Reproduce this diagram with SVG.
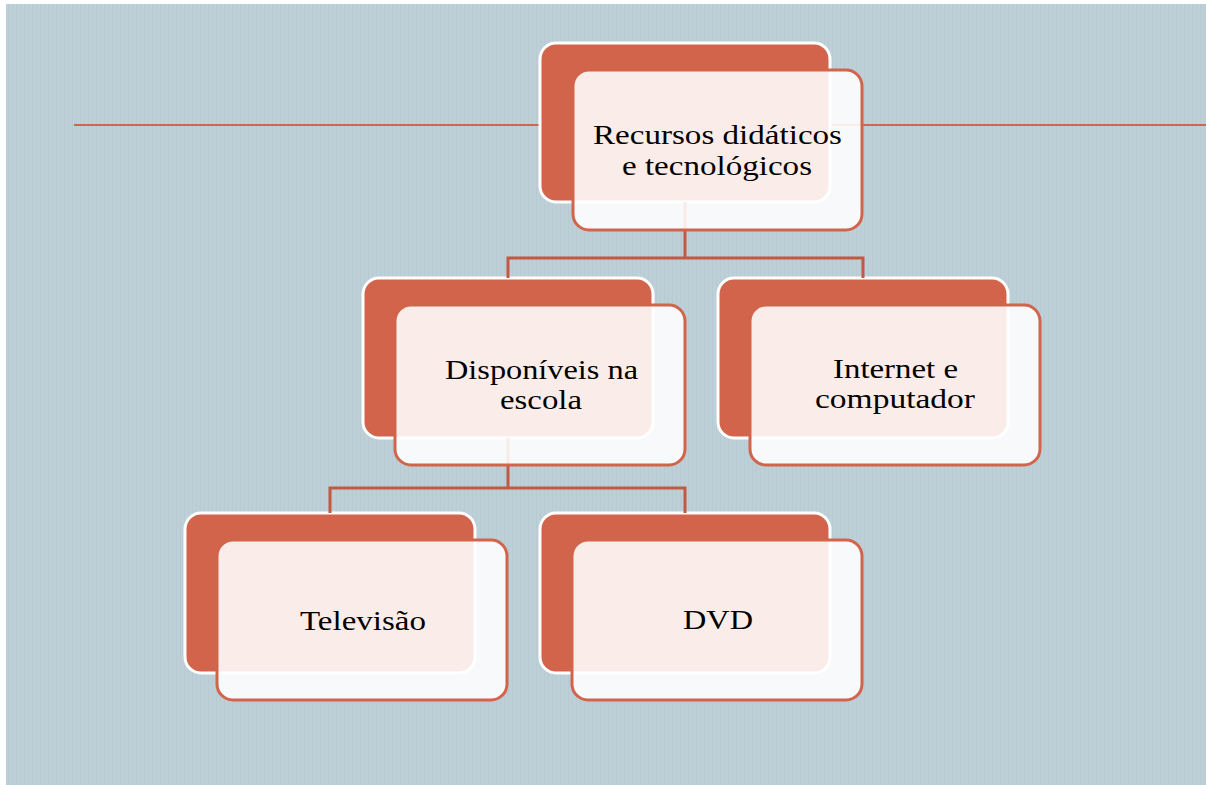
<svg xmlns="http://www.w3.org/2000/svg" width="1206" height="785" viewBox="0 0 1206 785">
<defs>
<pattern id="stripes" width="4" height="4" patternUnits="userSpaceOnUse">
<rect width="4" height="4" fill="#bdcfd7"/>
<rect width="1" height="4" fill="#b8cbd3"/>
</pattern>
</defs>
<style>
.back{fill:#d1644a;stroke:#ffffff;stroke-width:3}
.front{fill:#ffffff;fill-opacity:0.88;stroke:#d1644a;stroke-width:3}
.conn{fill:none;stroke:#c05a42;stroke-width:3}
.lbl{font-family:"Liberation Serif","Times New Roman",serif;font-size:28px;fill:#000000;text-anchor:middle}
</style>
<rect x="0" y="0" width="1206" height="785" fill="#ffffff"/>
<rect x="6" y="4" width="1200" height="781" fill="url(#stripes)"/>
<line x1="74" y1="125" x2="1206" y2="125" stroke="#d1644a" stroke-width="2"/>

<g id="n1-back"><rect class="back" x="540" y="43" width="290" height="159" rx="16"/></g>
<g id="n2-back"><rect class="back" x="363" y="278" width="290" height="160" rx="16"/></g>
<g id="n3-back"><rect class="back" x="718" y="278" width="290" height="160" rx="16"/></g>
<g id="n4-back"><rect class="back" x="185" y="513" width="290" height="160" rx="16"/></g>
<g id="n5-back"><rect class="back" x="540" y="513" width="290" height="160" rx="16"/></g>

<g id="connectors">
<path class="conn" d="M685 202 V258 M508 278 V258 H863 V278"/>
<path class="conn" d="M508 438 V488 M330 513 V488 H685 V513"/>
</g>

<g id="node-recursos">
<rect class="front" x="573" y="70" width="289" height="160" rx="16"/>
<text class="lbl" x="717.5" y="144" textLength="249" lengthAdjust="spacingAndGlyphs">Recursos didáticos</text>
<text class="lbl" x="717" y="175" textLength="190" lengthAdjust="spacingAndGlyphs">e tecnológicos</text>
</g>
<g id="node-disponiveis">
<rect class="front" x="395" y="305" width="290" height="160" rx="16"/>
<text class="lbl" x="541.5" y="379" textLength="193" lengthAdjust="spacingAndGlyphs">Disponíveis na</text>
<text class="lbl" x="541" y="409" textLength="82" lengthAdjust="spacingAndGlyphs">escola</text>
</g>
<g id="node-internet">
<rect class="front" x="750" y="305" width="290" height="160" rx="16"/>
<text class="lbl" x="895.5" y="378" textLength="125" lengthAdjust="spacingAndGlyphs">Internet e</text>
<text class="lbl" x="895" y="408" textLength="160" lengthAdjust="spacingAndGlyphs">computador</text>
</g>
<g id="node-televisao">
<rect class="front" x="217" y="540" width="290" height="160" rx="16"/>
<text class="lbl" x="363" y="630" textLength="126" lengthAdjust="spacingAndGlyphs">Televisão</text>
</g>
<g id="node-dvd">
<rect class="front" x="572" y="540" width="290" height="160" rx="16"/>
<text class="lbl" x="718" y="629" textLength="70" lengthAdjust="spacingAndGlyphs">DVD</text>
</g>
</svg>
